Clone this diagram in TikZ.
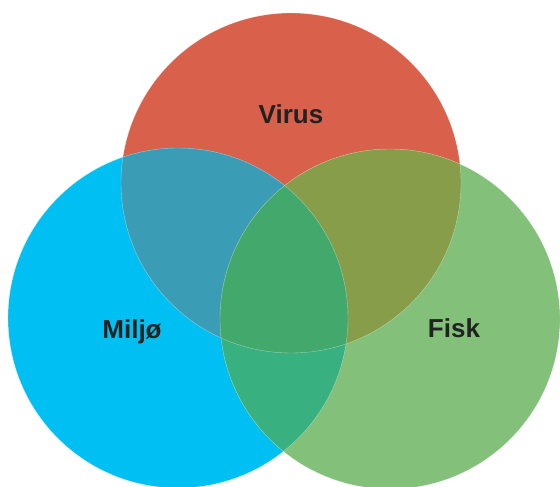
\documentclass[tikz,border=0pt]{standalone}
\usepackage{fontspec}
\setmainfont{Liberation Sans}
\definecolor{cred}{HTML}{D9604A}
\definecolor{ccyan}{HTML}{00BFF3}
\definecolor{cgreen}{HTML}{83C07A}
\definecolor{crc}{HTML}{3B9DB5}
\definecolor{crg}{HTML}{879D4A}
\definecolor{ccg}{HTML}{38B07F}
\definecolor{crcg}{HTML}{43A86B}
\definecolor{ctext}{HTML}{222222}
\begin{document}
\begin{tikzpicture}[x=1pt,y=1pt,
  lbl/.style={font=\bfseries\fontsize{26}{31}\selectfont, text=ctext, anchor=base, inner sep=0pt},
  edge/.style={draw=white, draw opacity=0.45, line width=0.4pt}]
\useasboundingbox (0,0) rectangle (560,487);
\def\rr{170}
\coordinate (R) at (291,304);
\coordinate (C) at (178,169);
\coordinate (G) at (390,168);
% base circles
\fill[cred] (R) circle (\rr);
\fill[ccyan] (C) circle (\rr);
\fill[cgreen] (G) circle (\rr);
% pairwise overlaps
\begin{scope}
  \clip (R) circle (\rr);
  \fill[crc] (C) circle (\rr);
\end{scope}
\begin{scope}
  \clip (R) circle (\rr);
  \fill[crg] (G) circle (\rr);
\end{scope}
\begin{scope}
  \clip (C) circle (\rr);
  \fill[ccg] (G) circle (\rr);
\end{scope}
% triple overlap
\begin{scope}
  \clip (R) circle (\rr);
  \clip (C) circle (\rr);
  \fill[crcg] (G) circle (\rr);
\end{scope}
% faint edges
\draw[edge] (R) circle (\rr);
\draw[edge] (C) circle (\rr);
\draw[edge] (G) circle (\rr);
% labels
\node[lbl] (virus) at (291,363) {Virus};
\node[lbl] (miljo) at (132,148) {Miljø};
\node[lbl] (fisk) at (454,149) {Fisk};
\end{tikzpicture}
\end{document}
